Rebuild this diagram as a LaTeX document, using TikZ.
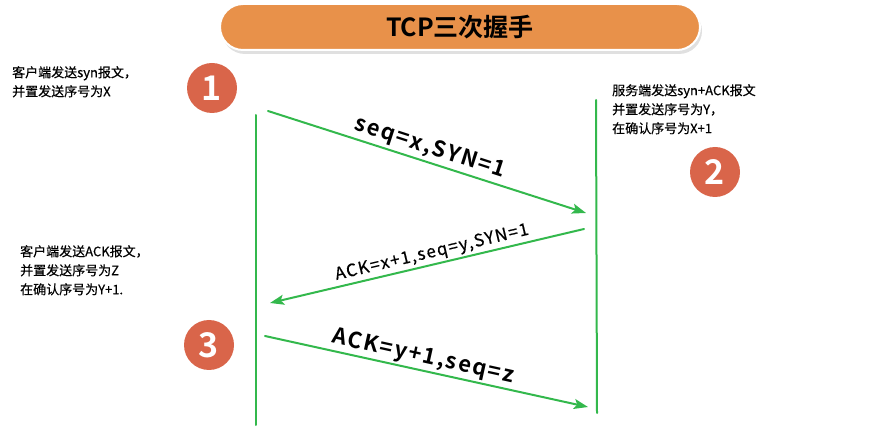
\documentclass[tikz,border=0pt]{standalone}
\usepackage{fontspec}
\setmainfont{Noto Sans CJK SC}[BoldFont={* Bold}]
\newfontfamily\notefont{Noto Sans CJK SC}[FakeBold=0.5]
\newfontfamily\widefont{Noto Sans CJK SC}[LetterSpace=8,BoldFont={* Bold},BoldFeatures={LetterSpace=8}]
\usetikzlibrary{arrows.meta}
\definecolor{bannerorange}{HTML}{E8914A}
\definecolor{numred}{HTML}{D9654A}
\definecolor{msggreen}{HTML}{33B84C}
\tikzset{
	lifeline/.style={draw=msggreen, line width=2pt},
	msg/.style={draw=msggreen, line width=2pt, -{Stealth[length=14pt,width=10pt,inset=3pt]}, fill=msggreen},
	numcirc/.style={circle, fill=numred, minimum size=50pt, inner sep=0pt, text=white, font=\bfseries\fontsize{34}{34}\selectfont},
	note/.style={anchor=north west, align=left, inner sep=0pt, font=\notefont\fontsize{13}{19}\selectfont},
	biglbl/.style={font=\widefont\bfseries\fontsize{22}{22}\selectfont},
	smalllbl/.style={font=\widefont\notefont\fontsize{17}{17}\selectfont}
}
\begin{document}
\begin{tikzpicture}[x=1pt, y=-1pt, line join=round, line cap=round]
	\useasboundingbox (0,0) rectangle (876,430);
	% banner
	\fill[black!12, rounded corners=23pt] (222,8) rectangle (702,54);
	\draw[white, line width=2pt, fill=bannerorange, rounded corners=23pt] (220,4) rectangle (700,50);
	\node[font=\bfseries\fontsize{25}{25}\selectfont] (title) at (460,27) {TCP三次握手};
	\path
	(256,115) coordinate (Ltop)
	(256,425) coordinate (Lbot)
	(596,100) coordinate (Rtop)
	(597,413) coordinate (Rbot)
	(268,111) coordinate (A1)
	(586,213) coordinate (B1)
	(584,229) coordinate (B2)
	(270,303) coordinate (A2)
	(265,336) coordinate (A3)
	(588,407) coordinate (B3)
	;
	\draw[lifeline] (Ltop)--(Lbot);
	\draw[lifeline] (Rtop)--(Rbot);
	\draw[msg] (A1)--(B1);
	\draw[msg] (B2)--(A2);
	\draw[msg] (A3)--(B3);
	\node[biglbl, rotate=-18] (lbl1) at (430,148) {seq=x,SYN=1};
	\node[font=\fontsize{17}{17}\selectfont, rotate=13.3] (lbl2) at (432,253) {\addfontfeature{LetterSpace=8,FakeBold=0.6}ACK=x+1,seq=y,SYN=1};
	\node[biglbl, rotate=-12.5] (lbl3) at (423,357) {ACK=y+1,seq=z};
	% step numbers
	\node[numcirc] (n1) at (212,88) {1};
	\node[numcirc] (n2) at (715,172) {2};
	\node[numcirc] (n3) at (209,345) {3};
	% notes
	\node[note] (note1) at (12,66) {客户端发送syn报文，\\并置发送序号为X};
	\node[note] (note2) at (612,84) {服务端发送syn+ACK报文\\并置发送序号为Y，\\在确认序号为X+1};
	\node[note] (note3) at (20,245) {客户端发送ACK报文，\\并置发送序号为Z\\在确认序号为Y+1.};
\end{tikzpicture}
\end{document}
